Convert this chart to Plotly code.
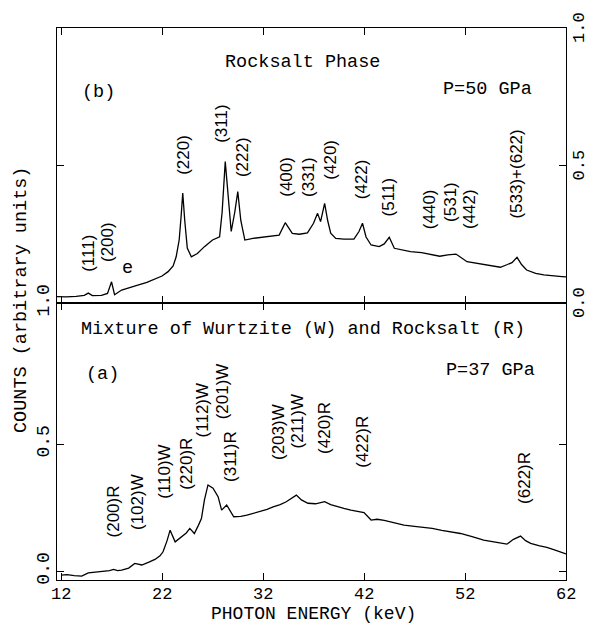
import plotly.graph_objects as go

# ---------------- data ----------------
# Upper panel (b): Rocksalt phase, P=50 GPa
energy_b = [11.6, 12.5, 13.5, 14.3, 14.7, 15.1, 16.0, 16.6, 17.0, 17.3, 18.0, 18.8, 19.6, 20.5,
            21.3, 22.0, 22.6, 23.1, 23.4, 23.7, 23.9, 24.05, 24.25, 24.5, 24.9, 25.5, 26.2, 27.0,
            27.7, 27.95, 28.26, 28.5, 28.85, 29.2, 29.5, 29.8, 30.2, 31.0, 32.0, 33.0, 33.6, 34.2,
            34.9, 35.6, 36.4, 37.0, 37.4, 37.7, 38.1, 38.4, 38.7, 39.2, 40.0, 41.0, 41.5, 41.85,
            42.2, 42.7, 43.5, 44.0, 44.5, 45.0, 46.0, 46.6, 47.7, 48.75, 49.5, 50.3, 51.1, 52.2,
            53.0, 53.9, 54.7, 55.5, 56.2, 56.65, 57.15, 57.6, 58.1, 59.0, 59.8, 60.7, 61.6, 62.0]
counts_b = [0.023, 0.022, 0.024, 0.028, 0.036, 0.027, 0.028, 0.035, 0.077, 0.030, 0.047, 0.055,
            0.065, 0.075, 0.087, 0.098, 0.114, 0.135, 0.168, 0.230, 0.320, 0.400, 0.300, 0.200,
            0.168, 0.180, 0.205, 0.229, 0.241, 0.330, 0.514, 0.400, 0.260, 0.330, 0.405, 0.300,
            0.229, 0.235, 0.239, 0.243, 0.247, 0.292, 0.253, 0.250, 0.255, 0.290, 0.326, 0.296,
            0.362, 0.300, 0.254, 0.235, 0.232, 0.232, 0.260, 0.290, 0.240, 0.211, 0.205, 0.215,
            0.239, 0.199, 0.190, 0.187, 0.183, 0.175, 0.170, 0.175, 0.178, 0.150, 0.145, 0.138,
            0.134, 0.130, 0.140, 0.147, 0.166, 0.140, 0.120, 0.108, 0.102, 0.098, 0.096, 0.095]

# Lower panel (a): mixture, P=37 GPa
energy_a = [12.0, 12.6, 13.3, 14.05, 14.7, 15.5, 16.35, 16.8, 17.2, 17.6, 18.0, 18.7, 19.3, 20.0,
            20.7, 21.3, 21.8, 22.1, 22.5, 22.8, 23.3, 23.95, 24.4, 24.75, 25.2, 25.6, 25.9, 26.2,
            26.55, 27.05, 27.55, 27.9, 28.4, 29.1, 29.8, 30.4, 31.0, 31.7, 32.4, 33.0, 33.7, 34.3,
            34.8, 35.3, 35.8, 36.45, 37.2, 38.1, 38.7, 39.4, 40.0, 40.7, 41.4, 42.0, 42.7, 43.3,
            44.0, 45.0, 45.96, 47.0, 47.9, 48.75, 49.7, 50.6, 51.55, 52.7, 53.85, 55.0, 56.15, 56.8,
            57.5, 58.0, 58.5, 59.3, 60.1, 61.0, 61.75, 62.0]
counts_a = [-0.016, -0.014, -0.018, -0.020, -0.007, -0.004, 0.000, 0.002, 0.007, 0.002, 0.004,
            0.012, 0.030, 0.024, 0.035, 0.046, 0.060, 0.076, 0.120, 0.161, 0.115, 0.135, 0.150,
            0.168, 0.148, 0.180, 0.207, 0.280, 0.339, 0.326, 0.293, 0.240, 0.260, 0.214, 0.215,
            0.220, 0.226, 0.233, 0.243, 0.253, 0.262, 0.273, 0.285, 0.299, 0.280, 0.267, 0.265,
            0.273, 0.262, 0.253, 0.247, 0.240, 0.236, 0.230, 0.201, 0.204, 0.200, 0.190, 0.181,
            0.176, 0.172, 0.168, 0.160, 0.155, 0.148, 0.136, 0.122, 0.114, 0.106, 0.125, 0.138,
            0.120, 0.109, 0.100, 0.093, 0.082, 0.070, 0.068]

x_ticks = [12, 22, 32, 42, 52, 62]
x_tick_labels = ["12", "22", "32", "42", "52", "62"]
right_ticks = [0.0, 0.5, 1.0]
right_tick_labels = ["0.0", "0.5", "1.0"]

# peak labels: (text, energy, height)
peaks_b = [("(111)", 14.7, 0.18), ("(200)", 16.6, 0.22), ("(220)", 24.05, 0.538),
           ("(311)", 27.9, 0.65), ("(222)", 29.9, 0.53), ("(400)", 34.3, 0.46),
           ("(331)", 36.5, 0.46), ("(420)", 38.6, 0.52), ("(422)", 41.7, 0.45),
           ("(511)", 44.4, 0.385), ("(440)", 48.5, 0.34), ("(531)", 50.5, 0.367),
           ("(442)", 52.45, 0.34), ("(533)+(622)", 57.15, 0.467)]
peaks_a = [("(200)R", 17.2, 0.233), ("(102)W", 19.55, 0.273), ("(110)W", 22.3, 0.391),
           ("(220)R", 24.4, 0.424), ("(112)W", 26.1, 0.634), ("(201)W", 28.0, 0.706),
           ("(311)R", 28.85, 0.45), ("(203)W", 33.6, 0.548), ("(211)W", 35.4, 0.59),
           ("(420)R", 38.1, 0.562), ("(422)R", 41.9, 0.509), ("(622)R", 57.9, 0.365)]

MONO = "Liberation Mono"
SANS = "Liberation Sans"

fig = go.Figure()
fig.add_trace(go.Scatter(x=energy_a, y=counts_a, mode="lines", xaxis="x", yaxis="y",
                         line=dict(color="black", width=1.3), showlegend=False))
fig.add_trace(go.Scatter(x=energy_b, y=counts_b, mode="lines", xaxis="x2", yaxis="y2",
                         line=dict(color="black", width=1.3), showlegend=False))
# invisible trace to activate right axis of upper panel
fig.add_trace(go.Scatter(x=[None], y=[None], xaxis="x2", yaxis="y3", showlegend=False))

common_axis = dict(showline=True, linecolor="black", linewidth=1.2, ticks="inside",
                   ticklen=7, tickwidth=1.2, tickcolor="black", showgrid=False, zeroline=False,
                   automargin=False,
                   tickfont=dict(family=MONO, size=18, color="black"))

split = 277 / 552
fig.update_layout(
    width=589, height=625,
    margin=dict(l=57, r=23, t=28, b=45),
    plot_bgcolor="white", paper_bgcolor="white",
    xaxis=dict(common_axis, domain=[0, 1], anchor="y", range=[11.6, 62.0],
               tickvals=x_ticks, showticklabels=False, mirror="ticks"),
    xaxis2=dict(common_axis, domain=[0, 1], anchor="y2", range=[11.6, 62.0],
                tickvals=x_ticks, showticklabels=False, mirror="ticks"),
    yaxis=dict(common_axis, domain=[0, split], anchor="x", range=[-0.035, 1.055],
               tickvals=[0, 0.5], ticktext=["0.0", "0.5"], tickangle=-90, mirror="ticks"),
    yaxis2=dict(common_axis, domain=[split, 1], anchor="x2", range=[0, 1],
                tickvals=[0, 0.5], ticktext=["1.0", ""], tickangle=-90, mirror="ticks"),
    yaxis3=dict(common_axis, overlaying="y2", side="right", anchor="x2", range=[0, 1],
                tickvals=right_ticks, showticklabels=False),
)

ann = []
txt = dict(family=MONO, size=18.5, color="black")
ann.append(dict(text="Rocksalt Phase", x=35.9, y=0.876, xref="x2", yref="y2", showarrow=False, font=txt))
ann.append(dict(text="(b)", x=15.7, y=0.764, xref="x2", yref="y2", showarrow=False, font=txt))
ann.append(dict(text="P=50 GPa", x=58.8, y=0.778, xref="x2", yref="y2", showarrow=False,
                xanchor="right", font=txt))
ann.append(dict(text="e", x=18.6, y=0.127, xref="x2", yref="y2", showarrow=False, font=txt))
ann.append(dict(text="Mixture of Wurtzite (W) and Rocksalt (R)", x=36.0, y=0.949, xref="x",
                yref="y", showarrow=False, font=txt))
ann.append(dict(text="(a)", x=16.1, y=0.772, xref="x", yref="y", showarrow=False, font=txt))
ann.append(dict(text="P=37 GPa", x=59.1, y=0.791, xref="x", yref="y", showarrow=False,
                xanchor="right", font=txt))
pk = dict(family=SANS, size=17, color="black")
for t, xv, yv in peaks_b:
    ann.append(dict(text=t, x=xv, y=yv, xref="x2", yref="y2", showarrow=False, textangle=-90, font=pk))
for t, xv, yv in peaks_a:
    ann.append(dict(text=t, x=xv, y=yv, xref="x", yref="y", showarrow=False, textangle=-90, font=pk))

# right-hand tick labels of the upper panel (drawn as rotated text next to the frame)
for v, t in zip(right_ticks, right_tick_labels):
    ann.append(dict(text=t, x=1.0, xshift=13, y=v, xref="paper", yref="y2", showarrow=False,
                    textangle=-90, xanchor="center", yanchor="middle", borderpad=0,
                    font=dict(family=MONO, size=17, color="black")))

# bottom tick labels placed just under the frame
for v, t in zip(x_ticks, x_tick_labels):
    ann.append(dict(text=t, x=v, xref="x", y=0, yref="paper", yshift=-14, showarrow=False,
                    xanchor="center", yanchor="middle", borderpad=0,
                    font=dict(family=MONO, size=17, color="black")))

ann.append(dict(text="COUNTS (arbitrary units)", x=21, y=300, xref="paper", yref="paper",
                showarrow=False, textangle=-90, font=txt))
ann.append(dict(text="PHOTON ENERGY (keV)", x=313, y=614, xref="paper", yref="paper",
                showarrow=False, borderpad=0, font=dict(family=MONO, size=18, color="black")))

# convert pixel positions for the axis titles into paper coordinates
pw, ph = 589 - 57 - 23, 625 - 28 - 45
for a in ann:
    if a["xref"] == "paper" and a["yref"] == "paper":
        a["x"] = (a["x"] - 57) / pw
        a["y"] = 1 - (a["y"] - 28) / ph
        a["xanchor"] = "center"
        a["yanchor"] = "middle"

fig.update_layout(annotations=ann)
fig.write_html("out.html", config={"displayModeBar": False},
               post_script="document.body.style.margin='0';document.body.style.overflow='hidden';")
